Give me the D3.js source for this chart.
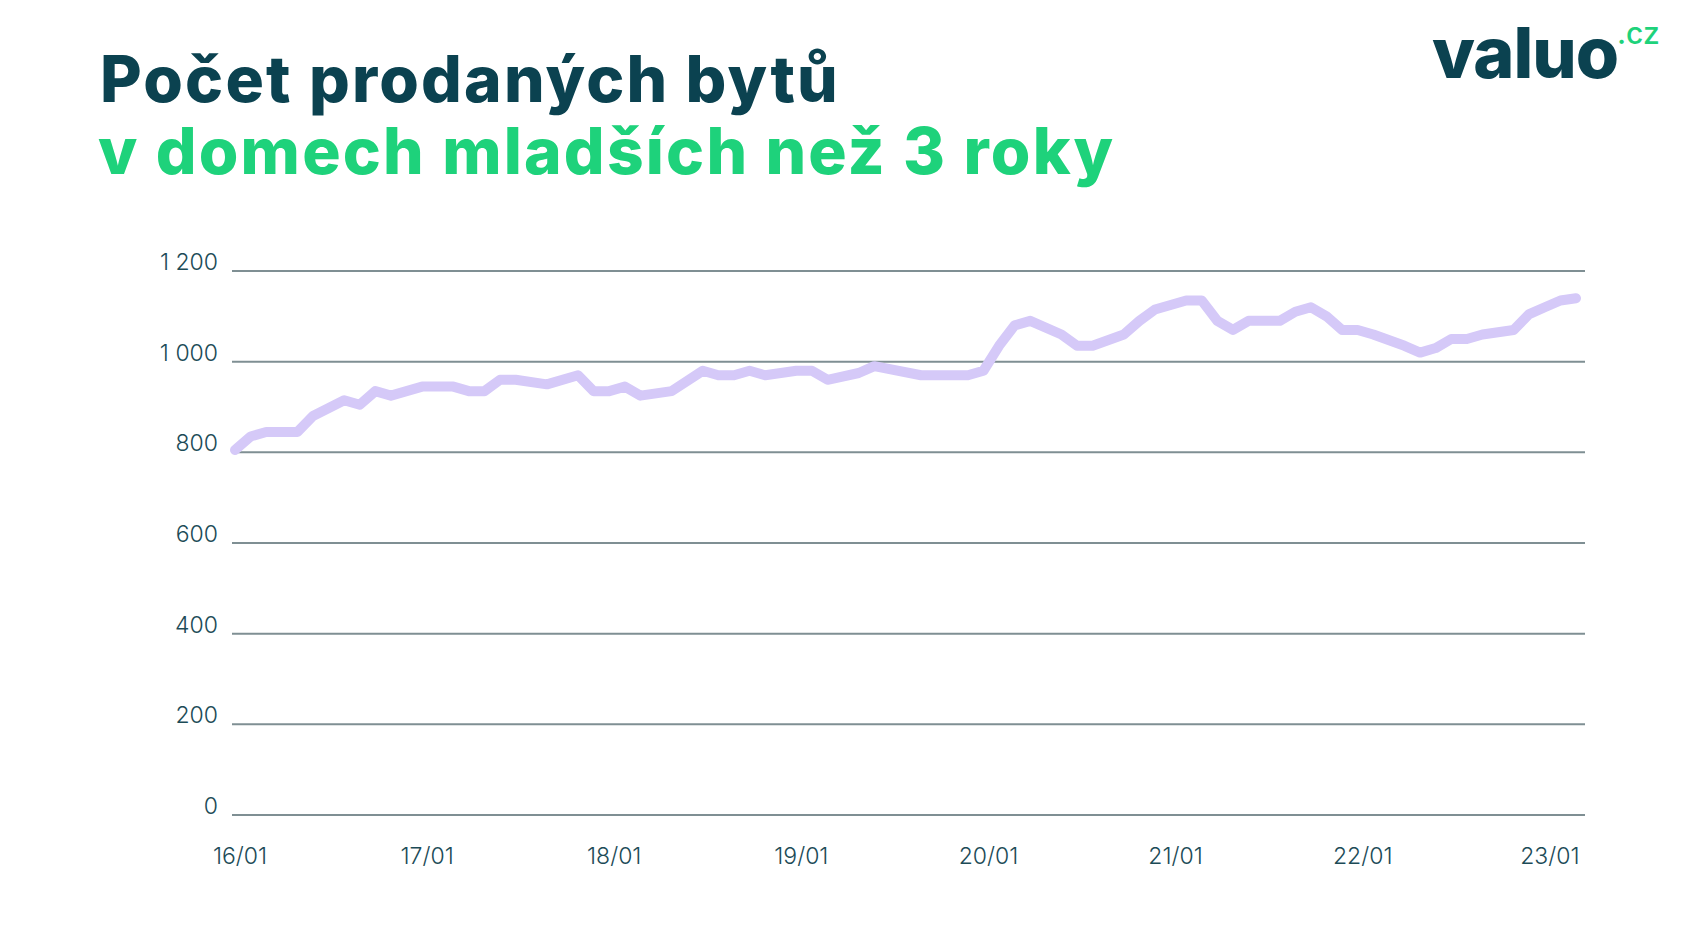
<!DOCTYPE html>
<html>
<head>
<meta charset="utf-8">
<style>
  body { margin: 0; background: #fff; }
  text { font-family: Inter, "Open Sans", sans-serif; }
</style>
</head>
<body>
<script src="https://d3js.org/d3.v7.min.js"></script>
<script>
'use strict';

// months since 2016-01
var months = [0,1,2,4,5,7,8,9,10,12,14,15,16,17,18,20,22,23,24,25,26,28,30,31,32,33,34,36,37,38,40,41,44,47,48,49,50,51,53,54,55,57,58,59,61,62,63,64,65,67,68,69,70,71,72,73,75,76,77,78,79,80,82,83,84,85,86];
var sold = [805,835,845,845,880,915,905,935,925,945,945,935,935,960,960,950,970,935,935,945,925,935,980,970,970,980,970,980,980,960,975,990,970,970,980,1035,1080,1090,1060,1035,1035,1060,1090,1115,1135,1135,1090,1070,1090,1090,1110,1120,1100,1070,1070,1060,1035,1020,1030,1050,1050,1060,1070,1105,1120,1135,1140];
var yTicks = [0, 200, 400, 600, 800, 1000, 1200];
var xTicks = [0, 12, 24, 36, 48, 60, 72, 84];
var xLabels = ['16/01','17/01','18/01','19/01','20/01','21/01','22/01','23/01'];

var W = 1685, H = 947;
var svg = d3.select('body').append('svg').attr('width', W).attr('height', H);

var x = d3.scaleLinear().domain([0, 86]).range([235, 1576]);
var y = d3.scaleLinear().domain([0, 1200]).range([815, 271]);

// title
svg.append('text').attr('x', 100).attr('y', 102)
  .attr('font-size', 64).attr('font-weight', 800).attr('fill', '#0b4250')
  .attr('letter-spacing', 2.2)
  .text('Počet prodaných bytů');
svg.append('text').attr('x', 98).attr('y', 174)
  .attr('font-size', 64).attr('font-weight', 800).attr('fill', '#1ed27b')
  .attr('letter-spacing', 2.2)
  .text('v domech mladších než 3 roky');

// logo
svg.append('text').attr('x', 1432).attr('y', 78)
  .attr('font-size', 70).attr('font-weight', 800).attr('fill', '#0b4250')
  .attr('letter-spacing', -1).text('valuo');
svg.append('text').attr('x', 1617).attr('y', 44)
  .attr('font-size', 30).attr('font-weight', 500).attr('fill', '#1ed27b')
  .text('.cz');

// grid + y labels
var fmt = function (d) { return d >= 1000 ? d3.format(',')(d).replace(',', ' ') : d; };
svg.append('g').selectAll('line').data(yTicks).join('line')
  .attr('x1', 232).attr('x2', 1585)
  .attr('y1', function (d) { return y(d); }).attr('y2', function (d) { return y(d); })
  .attr('stroke', '#7f8f93').attr('stroke-width', 2);
svg.append('g').selectAll('text').data(yTicks).join('text')
  .attr('x', 218).attr('y', function (d) { return y(d) - 1; })
  .attr('text-anchor', 'end').attr('font-size', 23).attr('font-weight', 300).attr('fill', '#1c4b57')
  .text(fmt);

// x labels
svg.append('g').selectAll('text').data(xTicks).join('text')
  .attr('x', function (d) { return x(d) + 5; }).attr('y', 864)
  .attr('text-anchor', 'middle').attr('font-size', 23).attr('font-weight', 300).attr('fill', '#1c4b57')
  .text(function (d, i) { return xLabels[i]; });

// line
var line = d3.line()
  .x(function (d, i) { return x(months[i]); })
  .y(function (d) { return y(d); });
svg.append('path').datum(sold).attr('d', line)
  .attr('fill', 'none').attr('stroke', '#d5c9f8').attr('stroke-width', 10)
  .attr('stroke-linejoin', 'round').attr('stroke-linecap', 'round');
</script>
</body>
</html>
